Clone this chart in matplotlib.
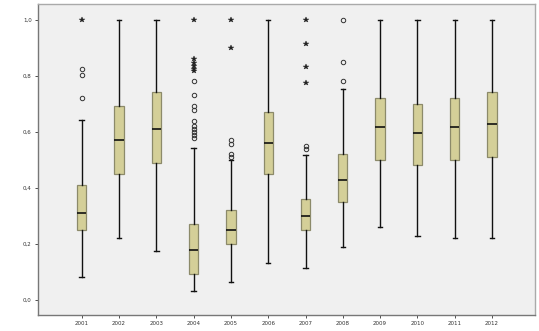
import matplotlib
matplotlib.use("Agg")
import matplotlib.pyplot as plt

years = ["2001", "2002", "2003", "2004", "2005", "2006",
         "2007", "2008", "2009", "2010", "2011", "2012"]
whisker_low = [0.083, 0.22, 0.175, 0.032, 0.063, 0.133, 0.113, 0.189, 0.26, 0.23, 0.22, 0.22]
q1          = [0.25, 0.45, 0.49, 0.092, 0.199, 0.45, 0.25, 0.349, 0.50, 0.481, 0.50, 0.511]
medians     = [0.31, 0.57, 0.612, 0.179, 0.251, 0.561, 0.301, 0.43, 0.617, 0.596, 0.617, 0.63]
q3          = [0.41, 0.692, 0.742, 0.27, 0.321, 0.67, 0.36, 0.52, 0.72, 0.70, 0.72, 0.742]
whisker_high = [0.642, 1.0, 1.0, 0.542, 0.499, 1.0, 0.519, 0.752, 1.0, 1.0, 1.0, 1.0]
outliers_circle = [
    [0.824, 0.803, 0.721],
    [], [],
    [0.58, 0.59, 0.60, 0.61, 0.62, 0.64, 0.679, 0.693, 0.732, 0.782],
    [0.51, 0.521, 0.557, 0.571],
    [],
    [0.54, 0.55],
    [1.0, 0.851, 0.782],
    [], [], [], [],
]
outliers_star = [
    [1.0], [], [],
    [1.0, 0.862, 0.845, 0.835, 0.826, 0.818],
    [1.0, 0.901],
    [],
    [1.0, 0.913, 0.832, 0.773],
    [], [], [], [], [],
]
yticks = [0.0, 0.2, 0.4, 0.6, 0.8, 1.0]
ytick_labels = ["0,0", "0,2", "0,4", "0,6", "0,8", "1,0"]

fig = plt.figure(figsize=(5.39, 3.31), dpi=100)
ax = fig.add_axes([0.0705, 0.0483, 0.922, 0.9397])
ax.set_facecolor("#f0f0f0")

positions = list(range(1, len(years) + 1))
stats = []
for i in range(len(years)):
    stats.append(dict(whislo=whisker_low[i], q1=q1[i], med=medians[i], q3=q3[i],
                      whishi=whisker_high[i], fliers=[], label=years[i]))

ax.bxp(stats, positions=positions, widths=0.25, showfliers=False, patch_artist=True,
       boxprops=dict(facecolor="#d4cf98", edgecolor="#8c8a6a", linewidth=0.9),
       medianprops=dict(color="#111111", linewidth=1.2),
       whiskerprops=dict(color="#111111", linewidth=1.0),
       capprops=dict(color="#111111", linewidth=1.0),
       capwidths=0.12)

for i, p in enumerate(positions):
    if outliers_circle[i]:
        ax.plot([p] * len(outliers_circle[i]), outliers_circle[i], linestyle="none",
                marker="o", markersize=3.2, markerfacecolor="none",
                markeredgecolor="#333333", markeredgewidth=0.7)
    if outliers_star[i]:
        ax.plot([p] * len(outliers_star[i]), outliers_star[i], linestyle="none",
                marker="*", markersize=3.8, color="#222222", markeredgewidth=0.3)

ax.set_xlim(-0.17, 13.15)
ax.set_ylim(-0.054, 1.057)
ax.set_yticks(yticks)
ax.set_yticklabels(ytick_labels)
ax.set_xticks(positions)
ax.set_xticklabels(years)
ax.tick_params(axis="both", labelsize=4, length=2.5, width=0.6, colors="#333333", pad=2)
for s in ["top", "right"]:
    ax.spines[s].set_color("#aaaaaa")
    ax.spines[s].set_linewidth(1.0)
for s in ["left", "bottom"]:
    ax.spines[s].set_color("#777777")
    ax.spines[s].set_linewidth(1.0)

fig.savefig("out.png", dpi=100)
